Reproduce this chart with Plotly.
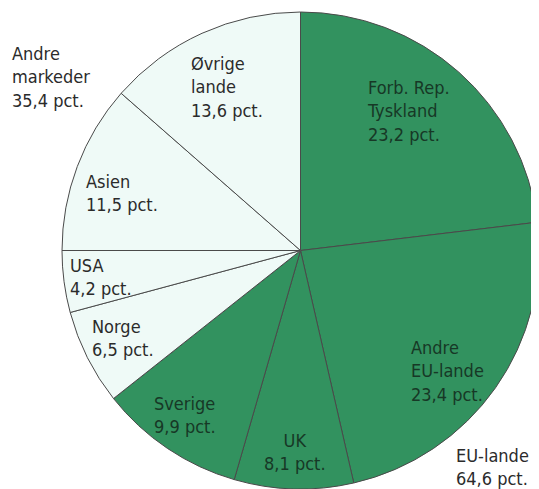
import plotly.graph_objects as go

# ---- data ----
countries = ["Forb. Rep.<br>Tyskland", "Andre<br>EU-lande", "UK", "Sverige",
             "Norge", "USA", "Asien", "Øvrige<br>lande"]
shares = [23.2, 23.4, 8.1, 9.9, 6.5, 4.2, 11.5, 13.6]
is_eu = [True, True, True, True, False, False, False, False]
groups = ["EU-lande", "Andre<br>markeder"]
group_shares = [64.6, 35.4]

# ---- style ----
# the page body adds an 8px margin, so the figure is sized to fill the rest
OFF = 8
W, H = 539 - OFF, 489 - OFF
GREEN = "#32925f"
LIGHT = "#effaf7"
FONT = "Liberation Sans Narrow, DejaVu Sans Condensed, Arial Narrow, sans-serif"
PAD = 3  # annotation inner padding


def fmt(v):
    return f"{v:.1f}".replace(".", ",") + " pct."


# label anchor positions in screen pixels (x, y, xanchor)
slice_label_pos = [(368, 111, "left"), (412, 371, "left"), (295, 452, "center"),
                   (155, 415, "left"), (93, 338, "left"), (71, 277, "left"),
                   (87, 193, "left"), (192, 87, "left")]
group_label_pos = [(457, 467, "left"), (13, 77, "left")]


def to_paper(px, py, xa):
    fx = px - OFF - (PAD if xa == "left" else 0)
    fy = py - OFF
    return fx / W, 1 - fy / H


# pie: centre (300.5, 250.5), radius 238.5 in screen pixels
cx, cy, r = 300.5, 250.5, 238.5
dom_x = [(cx - r - OFF) / W, min(1.0, (cx + r - OFF) / W)]
dom_y = [max(0.0, 1 - (cy + r - OFF) / H), 1 - (cy - r - OFF) / H]

fig = go.Figure(go.Pie(
    labels=[c.replace("<br>", " ") for c in countries],
    values=shares,
    sort=False,
    direction="clockwise",
    rotation=0,
    textinfo="none",
    marker=dict(colors=[GREEN if e else LIGHT for e in is_eu],
                line=dict(color="#4a4a4a", width=1)),
    domain=dict(x=dom_x, y=dom_y),
    hoverinfo="label+value",
))

annotations = []
for name, v, eu, (px, py, xa) in zip(countries, shares, is_eu, slice_label_pos):
    x, y = to_paper(px, py, xa)
    annotations.append(dict(
        x=x, y=y, xref="paper", yref="paper",
        text=f"{name}<br>{fmt(v)}", showarrow=False,
        xanchor=xa, yanchor="middle", align=xa,
        font=dict(family=FONT, size=18, color="#173826" if eu else "#2b2b2b"),
    ))
for name, v, (px, py, xa) in zip(groups, group_shares, group_label_pos):
    x, y = to_paper(px, py, xa)
    annotations.append(dict(
        x=x, y=y, xref="paper", yref="paper",
        text=f"{name}<br>{fmt(v)}", showarrow=False,
        xanchor=xa, yanchor="middle", align="left",
        font=dict(family=FONT, size=18, color="#2b2b2b"),
    ))

fig.update_layout(
    width=W, height=H,
    margin=dict(l=0, r=0, t=0, b=0),
    paper_bgcolor="white",
    showlegend=False,
    annotations=annotations,
)

fig.write_html("out.html")
